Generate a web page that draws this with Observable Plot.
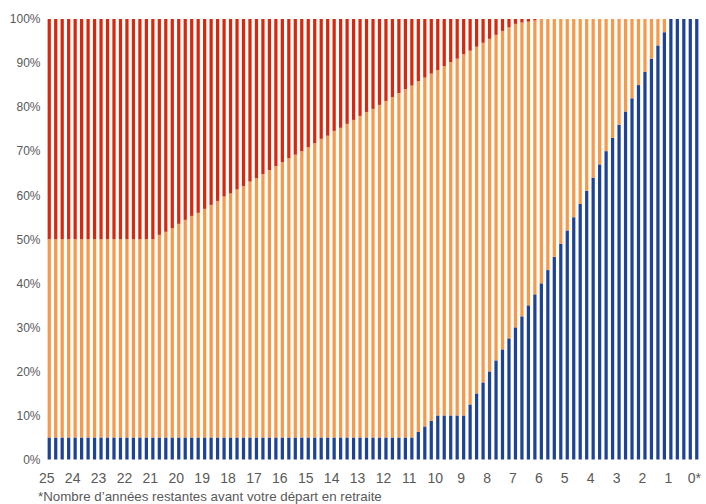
<!DOCTYPE html>
<html>
<head>
<meta charset="utf-8">
<script src="https://cdn.jsdelivr.net/npm/d3@7"></script>
<script src="https://cdn.jsdelivr.net/npm/@observablehq/plot@0.6"></script>
<style>
  html, body { margin: 0; padding: 0; background: #fff; }
  body { width: 706px; height: 504px; overflow: hidden; position: relative; font-family: "Liberation Sans", Arial, sans-serif; }
  #note { position: absolute; left: 38px; top: 489px; font-size: 13.33px; line-height: 15px; color: #595959; white-space: nowrap; }
</style>
</head>
<body>
<div id="chart"></div>
<div id="note">*Nombre d’années restantes avant votre départ en retraite</div>
<script>
// Years remaining before retirement: tick labels (one every 4 quarterly bars)
const tickLabels = ["25","24","23","22","21","20","19","18","17","16","15","14","13","12","11","10","9","8","7","6","5","4","3","2","1","0*"];
const yTicks = [0,10,20,30,40,50,60,70,80,90,100];
const seriesNames = ["Prudent", "Équilibré", "Dynamique"];
const seriesColors = ["#1f4394", "#f7994a", "#d7280e"];

// Share (%) of each bar, quarterly steps from 25 years down to 0
const prudent = [
  5,5,5,5,5,5,5,5,5,5,
  5,5,5,5,5,5,5,5,5,5,
  5,5,5,5,5,5,5,5,5,5,
  5,5,5,5,5,5,5,5,5,5,
  5,5,5,5,5,5,5,5,5,5,
  5,5,5,5,5,5,5,6.25,7.5,8.75,
  10,10,10,10,10,12.5,15,17.5,20,22.5,
  25,27.5,30,32.5,35,37.5,40,43,46,49,
  52,55,58,61,64,67,70,73,76,79,
  82,85,88,91,94,97,100,100,100,100,
  100
];
const equilibre = [
  45,45,45,45,45,45,45,45,45,45,
  45,45,45,45,45,45,45,46.0,46.7,47.5,
  48.5,49.4,50.3,51.0,51.9,52.8,53.7,54.7,55.4,56.3,
  57.1,58.1,58.9,59.8,60.7,61.6,62.5,63.4,64.2,65.0,
  65.9,66.8,67.8,68.5,69.6,70.3,71.2,72.1,73.0,73.9,
  74.6,75.5,76.4,77.3,78.2,79.1,79.9,79.65,79.2,78.85,
  78.4,79.3,80.2,81.0,82.0,80.3,78.7,77.1,75.5,73.9,
  72.3,70.6,68.9,66.7,64.4,62.2,60,57,54,51,
  48,45,42,39,36,33,30,27,24,21,
  18,15,12,9,6,3,0,0,0,0,
  0
];
const dynamique = [
  50,50,50,50,50,50,50,50,50,50,
  50,50,50,50,50,50,50,49.0,48.3,47.5,
  46.5,45.6,44.7,44.0,43.1,42.2,41.3,40.3,39.6,38.7,
  37.9,36.9,36.1,35.2,34.3,33.4,32.5,31.6,30.8,30.0,
  29.1,28.2,27.2,26.5,25.4,24.7,23.8,22.9,22.0,21.1,
  20.4,19.5,18.6,17.7,16.8,15.9,15.1,14.1,13.3,12.4,
  11.6,10.7,9.8,9.0,8.0,7.2,6.3,5.4,4.5,3.6,
  2.7,1.9,1.1,0.8,0.6,0.3,0,0,0,0,
  0,0,0,0,0,0,0,0,0,0,
  0,0,0,0,0,0,0,0,0,0,
  0
];

const seriesValues = [prudent, equilibre, dynamique];
const positions = d3.range(prudent.length);
const data = [];
seriesValues.forEach((arr, k) => {
  arr.forEach((v, i) => data.push({ i, serie: seriesNames[k], value: v }));
});

const chart = Plot.plot({
  width: 706,
  height: 486,
  marginTop: 19,
  marginBottom: 26.5,
  marginLeft: 46,
  marginRight: 6,
  style: { fontFamily: '"Liberation Sans", Arial, sans-serif', color: "#595959", background: "#fff" },
  x: { type: "band", domain: positions, paddingInner: 0.5, paddingOuter: 0.25, axis: null },
  y: { domain: [0, 100], axis: null },
  color: { domain: seriesNames, range: seriesColors },
  marks: [
    Plot.barY(data, { x: "i", y: "value", fill: "serie", order: seriesNames }),
    Plot.axisY({ ticks: yTicks, tickFormat: d => d + "%", tickSize: 0, tickPadding: 6, fontSize: 12, fill: "#595959", label: null }),
    Plot.axisX({ ticks: d3.range(0, positions.length, 4), tickFormat: i => tickLabels[i / 4], tickSize: 0, tickPadding: 13, fontSize: 14, fill: "#595959", dx: -3, label: null })
  ]
});
document.getElementById("chart").appendChild(chart);
</script>
</body>
</html>
